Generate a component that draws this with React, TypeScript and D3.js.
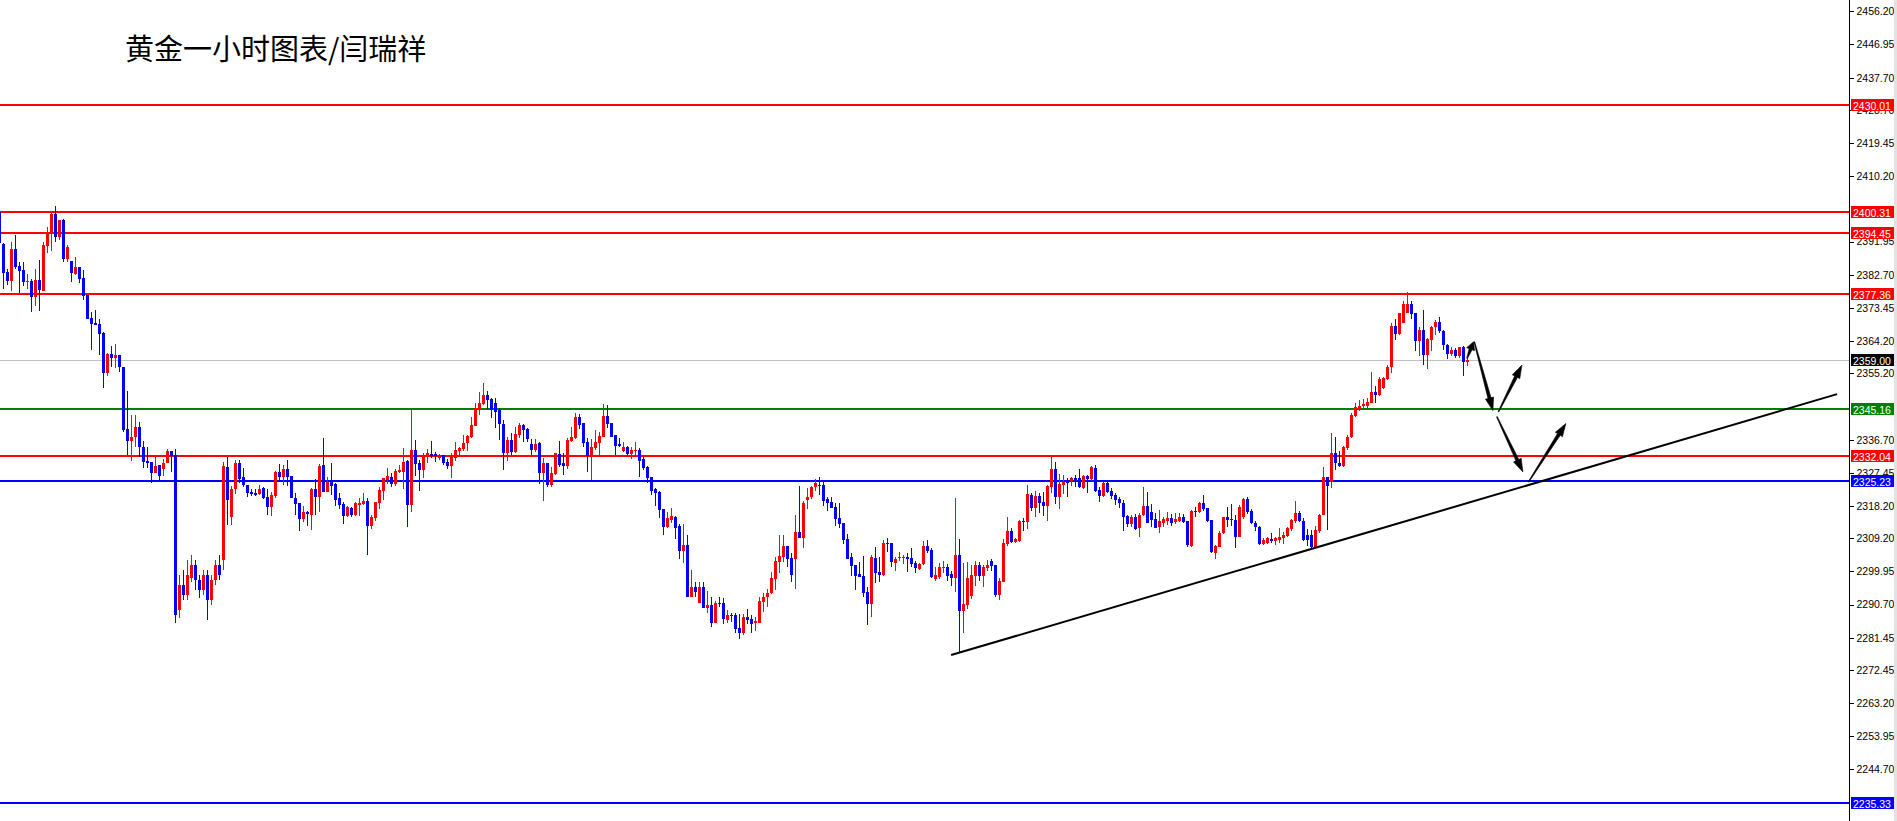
import React, { useEffect, useRef } from 'react';
import * as d3 from 'd3';

const opens = [
  2400.2, 2391.3, 2383.5, 2381.0, 2389.9, 2385.2, 2384.0, 2380.7, 2381.0, 2376.5,
  2381.2, 2378.2, 2390.7, 2394.4, 2399.7, 2393.2, 2398.0, 2387.1, 2386.5, 2382.9,
  2384.9, 2381.8, 2377.1, 2370.6, 2369.2, 2369.0, 2366.5, 2355.3, 2360.6, 2359.5,
  2360.3, 2357.0, 2339.7, 2336.3, 2337.4, 2340.2, 2334.7, 2330.7, 2330.5, 2327.4,
  2329.6, 2328.5, 2330.2, 2333.5, 2332.4, 2289.2, 2296.2, 2293.4, 2298.1, 2301.7,
  2297.6, 2294.7, 2298.9, 2292.0, 2297.6, 2301.7, 2303.1, 2329.1, 2315.1, 2322.9,
  2330.2, 2326.3, 2324.1, 2322.1, 2321.8, 2321.5, 2323.2, 2320.7, 2317.9, 2321.0,
  2327.7, 2326.3, 2328.5, 2326.6, 2320.4, 2319.0, 2314.6, 2316.5, 2315.7, 2322.9,
  2320.7, 2329.6, 2322.1, 2324.9, 2324.3, 2320.4, 2318.7, 2315.4, 2317.6, 2315.7,
  2318.5, 2318.7, 2319.6, 2312.6, 2314.9, 2319.0, 2322.4, 2325.5, 2326.3, 2324.3,
  2327.7, 2327.7, 2330.7, 2318.5, 2333.8, 2330.2, 2328.2, 2331.9, 2332.7, 2332.7,
  2331.6, 2332.4, 2330.5, 2329.4, 2331.6, 2333.5, 2334.1, 2335.8, 2337.4, 2340.5,
  2345.2, 2346.6, 2349.2, 2348.0, 2346.9, 2345.0, 2341.1, 2333.0, 2336.6, 2333.2,
  2338.0, 2340.8, 2339.7, 2335.5, 2333.8, 2335.8, 2327.4, 2330.2, 2324.1, 2327.1,
  2332.7, 2330.2, 2329.4, 2336.3, 2337.2, 2343.0, 2341.3, 2336.0, 2332.1, 2334.4,
  2335.8, 2337.4, 2343.3, 2341.3, 2338.0, 2335.5, 2333.5, 2334.7, 2332.7, 2333.5,
  2333.8, 2331.3, 2329.1, 2326.3, 2322.9, 2322.1, 2317.3, 2312.3, 2314.3, 2315.1,
  2312.6, 2305.6, 2307.3, 2292.8, 2295.6, 2291.1, 2295.6, 2289.7, 2290.6, 2285.6,
  2291.1, 2291.1, 2286.4, 2287.8, 2287.8, 2284.1, 2282.7, 2287.2, 2286.7, 2285.5,
  2285.5, 2291.4, 2292.8, 2293.9, 2297.8, 2302.6, 2303.9, 2307.0, 2303.7, 2303.4,
  2310.9, 2309.3, 2319.9, 2320.7, 2323.5, 2324.1, 2324.1, 2320.1, 2319.3, 2317.9,
  2314.9, 2313.4, 2309.0, 2303.9, 2301.7, 2299.2, 2298.7, 2294.2, 2290.8, 2303.7,
  2299.8, 2298.9, 2307.9, 2307.9, 2302.3, 2303.7, 2303.7, 2303.9, 2303.7, 2302.3,
  2300.6, 2302.0, 2307.0, 2305.9, 2297.8, 2298.4, 2300.9, 2301.2, 2299.2, 2298.1,
  2304.5, 2288.9, 2290.6, 2293.1, 2298.7, 2301.7, 2298.7, 2300.9, 2302.8, 2301.7,
  2293.4, 2297.0, 2307.6, 2311.2, 2308.1, 2308.4, 2314.0, 2313.7, 2321.3, 2317.6,
  2321.0, 2319.3, 2318.2, 2323.5, 2328.5, 2320.7, 2324.1, 2325.2, 2325.2, 2326.0,
  2326.0, 2323.2, 2326.6, 2325.7, 2328.8, 2322.6, 2321.0, 2324.6, 2322.4, 2321.3,
  2320.1, 2319.0, 2315.4, 2313.2, 2315.1, 2312.1, 2315.7, 2318.2, 2316.5, 2314.6,
  2312.3, 2313.4, 2314.0, 2314.9, 2313.7, 2314.0, 2315.1, 2314.0, 2307.0, 2316.8,
  2316.5, 2319.0, 2317.6, 2314.3, 2305.1, 2306.7, 2310.6, 2315.1, 2314.6, 2314.3,
  2309.6, 2315.1, 2320.1, 2316.8, 2313.4, 2312.3, 2307.6, 2307.9, 2309.0, 2308.4,
  2308.7, 2309.3, 2309.8, 2311.8, 2314.0, 2316.2, 2314.0, 2310.1, 2310.1, 2306.7,
  2311.2, 2315.7, 2326.3, 2324.9, 2333.0, 2330.2, 2329.4, 2334.4, 2337.4, 2343.3,
  2345.2, 2346.1, 2346.1, 2346.9, 2350.0, 2349.2, 2351.1, 2353.6, 2357.0, 2368.4,
  2366.2, 2369.2, 2372.0, 2374.5, 2372.0, 2364.2, 2367.3, 2360.3, 2364.5, 2368.1,
  2369.5, 2367.0, 2363.1, 2360.6, 2361.7, 2360.0, 2362.6, 2358.4,
];

const highs = [
  2400.5, 2391.6, 2384.3, 2391.8, 2393.8, 2386.3, 2386.3, 2382.9, 2381.5, 2384.3,
  2386.8, 2391.8, 2396.0, 2400.0, 2401.9, 2398.0, 2398.3, 2391.0, 2386.5, 2387.7,
  2384.9, 2384.0, 2377.1, 2372.3, 2372.9, 2370.4, 2366.7, 2360.9, 2362.8, 2363.4,
  2360.3, 2357.0, 2350.3, 2343.6, 2343.6, 2341.6, 2336.3, 2334.7, 2330.5, 2331.9,
  2329.6, 2331.3, 2334.1, 2333.5, 2334.1, 2298.9, 2300.3, 2303.1, 2304.5, 2303.1,
  2298.9, 2300.3, 2300.3, 2298.9, 2303.1, 2304.5, 2330.5, 2331.9, 2323.8, 2331.0,
  2331.0, 2328.9, 2324.1, 2322.9, 2322.9, 2324.1, 2323.5, 2322.9, 2322.1, 2328.0,
  2329.9, 2329.6, 2331.0, 2326.6, 2321.8, 2319.0, 2318.2, 2316.8, 2323.2, 2325.7,
  2329.9, 2337.2, 2326.3, 2330.2, 2324.6, 2321.8, 2319.3, 2318.2, 2317.9, 2319.3,
  2320.4, 2321.8, 2320.4, 2315.7, 2319.3, 2323.5, 2326.0, 2328.8, 2327.4, 2328.5,
  2329.6, 2334.4, 2331.0, 2345.0, 2336.6, 2331.0, 2332.9, 2334.1, 2336.3, 2333.2,
  2332.7, 2332.4, 2331.3, 2332.9, 2336.0, 2334.7, 2338.0, 2338.0, 2343.0, 2346.9,
  2350.0, 2352.5, 2350.3, 2348.3, 2348.3, 2345.5, 2342.2, 2337.4, 2338.5, 2340.2,
  2341.3, 2341.1, 2340.0, 2336.9, 2336.9, 2336.0, 2331.6, 2330.2, 2329.1, 2333.0,
  2336.3, 2333.0, 2337.2, 2340.2, 2344.1, 2343.9, 2341.3, 2337.2, 2336.9, 2339.4,
  2338.8, 2346.6, 2346.4, 2341.3, 2338.0, 2337.2, 2336.0, 2334.9, 2334.7, 2336.0,
  2334.4, 2331.9, 2329.4, 2326.3, 2323.2, 2322.4, 2317.3, 2316.5, 2317.6, 2315.4,
  2313.2, 2313.2, 2310.1, 2300.3, 2297.0, 2297.0, 2297.0, 2294.5, 2292.8, 2291.7,
  2292.8, 2292.5, 2289.2, 2288.3, 2288.3, 2288.0, 2288.0, 2289.4, 2287.8, 2287.2,
  2292.8, 2293.9, 2295.0, 2299.8, 2303.9, 2310.1, 2310.1, 2307.0, 2305.1, 2315.7,
  2323.8, 2319.6, 2323.2, 2323.8, 2325.7, 2326.3, 2324.9, 2320.7, 2320.7, 2319.0,
  2319.0, 2313.4, 2310.4, 2305.1, 2301.7, 2302.6, 2304.2, 2295.6, 2304.5, 2306.7,
  2303.9, 2308.7, 2309.3, 2307.9, 2303.9, 2305.3, 2304.5, 2305.1, 2306.5, 2302.8,
  2302.3, 2308.4, 2308.7, 2306.5, 2301.2, 2302.3, 2302.8, 2302.0, 2300.0, 2320.4,
  2309.0, 2302.3, 2302.6, 2301.7, 2302.8, 2302.6, 2301.7, 2303.1, 2303.4, 2301.7,
  2298.1, 2309.0, 2315.1, 2312.1, 2309.3, 2314.3, 2314.8, 2324.1, 2321.8, 2322.4,
  2321.8, 2322.1, 2324.1, 2331.9, 2330.5, 2327.1, 2326.9, 2326.0, 2326.3, 2326.9,
  2328.5, 2326.9, 2326.9, 2329.4, 2329.6, 2323.5, 2324.9, 2324.9, 2323.2, 2321.8,
  2320.7, 2319.9, 2315.7, 2315.7, 2316.0, 2316.2, 2323.5, 2322.1, 2318.7, 2316.2,
  2317.1, 2315.1, 2316.5, 2316.0, 2316.2, 2316.2, 2316.0, 2314.0, 2317.1, 2317.9,
  2319.3, 2321.3, 2317.6, 2314.3, 2307.3, 2311.2, 2315.1, 2317.9, 2318.7, 2315.7,
  2318.5, 2320.4, 2320.7, 2317.4, 2314.0, 2312.6, 2309.3, 2309.6, 2310.6, 2309.6,
  2312.1, 2310.9, 2312.3, 2314.6, 2319.6, 2316.8, 2314.9, 2311.8, 2311.5, 2312.6,
  2316.0, 2329.1, 2326.3, 2338.5, 2337.4, 2333.5, 2334.9, 2338.0, 2344.1, 2346.9,
  2347.8, 2348.0, 2348.3, 2355.6, 2351.7, 2354.2, 2354.2, 2357.5, 2369.2, 2370.4,
  2372.0, 2375.4, 2377.9, 2375.4, 2372.0, 2368.1, 2372.9, 2365.1, 2368.4, 2370.1,
  2370.9, 2367.3, 2363.4, 2362.6, 2362.3, 2362.6, 2362.8, 2359.8,
];

const lows = [
  2391.0, 2378.7, 2379.9, 2378.2, 2384.3, 2377.6, 2379.6, 2378.7, 2372.3, 2374.0,
  2372.6, 2378.2, 2388.8, 2389.3, 2391.8, 2392.4, 2386.3, 2386.3, 2380.7, 2382.6,
  2380.4, 2375.7, 2370.4, 2361.7, 2368.7, 2360.3, 2351.1, 2354.5, 2357.0, 2356.7,
  2355.6, 2338.8, 2332.4, 2330.7, 2334.7, 2331.9, 2328.8, 2328.8, 2324.6, 2327.4,
  2325.5, 2326.6, 2330.2, 2327.7, 2285.5, 2286.9, 2292.0, 2292.0, 2297.0, 2294.7,
  2292.5, 2293.3, 2286.4, 2290.6, 2296.2, 2297.6, 2300.3, 2312.9, 2312.9, 2321.6,
  2324.6, 2323.5, 2320.7, 2321.0, 2321.0, 2321.3, 2320.1, 2315.7, 2315.4, 2320.4,
  2324.9, 2324.1, 2323.8, 2320.4, 2315.7, 2311.2, 2313.7, 2312.6, 2311.5, 2315.7,
  2316.5, 2322.1, 2322.1, 2321.3, 2318.2, 2317.4, 2313.2, 2315.1, 2315.1, 2315.4,
  2315.4, 2318.5, 2304.5, 2311.8, 2314.0, 2317.4, 2319.9, 2324.3, 2323.5, 2323.8,
  2327.4, 2322.9, 2312.3, 2316.5, 2326.6, 2322.4, 2326.0, 2330.2, 2331.6, 2330.5,
  2331.0, 2329.6, 2328.5, 2326.0, 2330.7, 2332.1, 2333.5, 2333.5, 2337.2, 2340.5,
  2343.6, 2346.4, 2345.2, 2342.8, 2340.0, 2336.6, 2328.2, 2330.7, 2332.4, 2333.0,
  2337.2, 2336.0, 2336.0, 2332.4, 2333.2, 2324.3, 2319.6, 2323.5, 2323.5, 2326.9,
  2329.1, 2326.9, 2328.5, 2336.0, 2336.9, 2339.7, 2334.7, 2327.7, 2325.5, 2333.8,
  2332.4, 2337.4, 2339.9, 2337.4, 2332.4, 2334.7, 2333.2, 2332.4, 2331.3, 2331.9,
  2326.3, 2328.2, 2324.6, 2321.3, 2318.2, 2314.8, 2310.1, 2312.1, 2313.4, 2309.0,
  2303.4, 2302.3, 2292.8, 2292.8, 2292.8, 2291.1, 2289.7, 2288.3, 2284.4, 2285.6,
  2290.0, 2285.3, 2285.6, 2285.8, 2282.8, 2281.1, 2282.2, 2285.3, 2282.8, 2283.3,
  2285.5, 2288.6, 2290.0, 2293.6, 2294.7, 2299.5, 2302.6, 2301.2, 2297.0, 2295.0,
  2309.3, 2306.5, 2317.4, 2320.1, 2322.4, 2321.3, 2318.2, 2316.8, 2317.6, 2312.6,
  2312.1, 2307.6, 2303.4, 2298.7, 2294.7, 2298.4, 2292.8, 2285.0, 2287.2, 2296.7,
  2297.0, 2298.7, 2305.3, 2301.2, 2300.0, 2302.8, 2302.0, 2299.8, 2301.2, 2299.5,
  2300.3, 2301.7, 2305.1, 2298.1, 2297.3, 2297.8, 2299.5, 2297.3, 2295.9, 2294.2,
  2277.2, 2282.8, 2289.4, 2292.2, 2295.9, 2297.3, 2295.6, 2300.0, 2300.0, 2292.8,
  2292.0, 2297.0, 2307.0, 2307.9, 2307.9, 2308.1, 2311.2, 2311.8, 2316.8, 2315.1,
  2316.2, 2315.4, 2314.0, 2321.8, 2318.7, 2317.4, 2321.5, 2320.7, 2323.8, 2323.5,
  2323.2, 2322.9, 2321.8, 2325.2, 2322.1, 2319.3, 2320.7, 2321.8, 2320.1, 2318.5,
  2317.6, 2311.2, 2312.3, 2312.3, 2311.5, 2309.6, 2315.4, 2313.4, 2312.3, 2312.1,
  2310.6, 2312.3, 2312.9, 2312.6, 2313.2, 2313.7, 2313.4, 2306.7, 2306.7, 2315.1,
  2316.2, 2316.8, 2313.7, 2305.1, 2303.4, 2306.7, 2310.4, 2312.3, 2312.6, 2306.5,
  2309.6, 2314.6, 2316.0, 2313.2, 2311.2, 2307.3, 2307.3, 2307.6, 2307.9, 2307.3,
  2307.9, 2307.6, 2309.6, 2311.2, 2313.4, 2313.7, 2308.4, 2307.0, 2306.2, 2306.7,
  2310.6, 2315.7, 2311.5, 2323.2, 2328.2, 2329.1, 2329.1, 2333.8, 2337.2, 2343.0,
  2344.7, 2345.5, 2345.5, 2346.9, 2346.9, 2348.9, 2350.8, 2353.3, 2355.3, 2364.5,
  2365.9, 2369.2, 2372.0, 2370.4, 2361.4, 2360.0, 2357.5, 2356.4, 2361.4, 2365.9,
  2366.4, 2361.7, 2359.2, 2360.0, 2359.5, 2359.5, 2354.5, 2357.3,
];

const closes = [
  2391.6, 2383.2, 2381.0, 2389.9, 2384.9, 2383.8, 2380.7, 2381.0, 2376.5, 2381.2,
  2378.4, 2391.0, 2394.6, 2399.7, 2393.2, 2398.0, 2387.1, 2390.5, 2383.2, 2384.9,
  2381.5, 2376.8, 2370.4, 2369.0, 2368.7, 2366.2, 2355.3, 2360.6, 2359.5, 2360.3,
  2357.0, 2339.4, 2336.3, 2337.4, 2340.2, 2334.7, 2330.5, 2330.2, 2327.4, 2329.4,
  2326.6, 2330.2, 2333.5, 2332.1, 2287.8, 2296.2, 2293.4, 2298.9, 2301.7, 2297.6,
  2294.7, 2298.9, 2292.0, 2297.6, 2301.7, 2298.9, 2329.4, 2319.9, 2322.9, 2330.2,
  2325.7, 2324.1, 2321.8, 2321.5, 2321.3, 2322.9, 2320.4, 2317.9, 2321.3, 2327.7,
  2326.3, 2328.5, 2326.3, 2320.4, 2318.7, 2314.6, 2316.5, 2316.0, 2322.9, 2320.7,
  2329.4, 2322.1, 2324.9, 2323.8, 2319.9, 2318.5, 2315.4, 2317.9, 2315.7, 2319.0,
  2319.0, 2319.6, 2312.6, 2315.1, 2319.3, 2322.6, 2326.0, 2326.6, 2324.3, 2328.0,
  2328.2, 2330.5, 2318.5, 2333.8, 2329.9, 2328.2, 2331.9, 2332.9, 2332.1, 2332.1,
  2332.4, 2330.2, 2329.4, 2331.9, 2333.8, 2334.4, 2335.8, 2337.7, 2340.8, 2345.5,
  2346.9, 2349.2, 2347.8, 2345.0, 2344.4, 2341.1, 2333.0, 2336.6, 2333.2, 2338.2,
  2340.8, 2339.4, 2336.9, 2333.8, 2335.5, 2327.4, 2330.2, 2324.1, 2327.4, 2333.0,
  2329.6, 2329.4, 2336.6, 2337.4, 2343.0, 2340.8, 2335.8, 2332.1, 2334.7, 2336.0,
  2337.7, 2343.3, 2341.1, 2337.4, 2334.9, 2334.9, 2334.7, 2332.7, 2333.8, 2333.8,
  2330.7, 2328.8, 2326.0, 2322.4, 2321.8, 2317.1, 2312.3, 2314.8, 2315.4, 2312.1,
  2305.6, 2307.3, 2292.8, 2295.6, 2294.2, 2295.6, 2289.7, 2290.6, 2285.6, 2291.1,
  2290.8, 2286.7, 2287.8, 2287.5, 2283.9, 2282.7, 2287.2, 2286.4, 2285.3, 2286.1,
  2291.7, 2292.8, 2293.9, 2298.1, 2302.8, 2304.2, 2307.0, 2303.4, 2298.9, 2310.9,
  2309.3, 2319.0, 2320.7, 2323.5, 2324.6, 2323.8, 2319.6, 2319.0, 2317.6, 2314.6,
  2313.2, 2308.7, 2303.4, 2301.4, 2298.7, 2298.4, 2293.9, 2290.8, 2303.9, 2299.5,
  2298.9, 2307.9, 2307.6, 2302.6, 2303.4, 2303.9, 2303.9, 2303.4, 2302.0, 2300.9,
  2302.0, 2307.0, 2305.6, 2298.4, 2298.9, 2301.2, 2301.2, 2298.7, 2298.1, 2304.5,
  2288.9, 2290.8, 2298.1, 2298.9, 2301.7, 2298.7, 2301.2, 2301.7, 2301.4, 2293.4,
  2297.3, 2307.9, 2311.2, 2308.1, 2309.0, 2314.0, 2313.7, 2321.5, 2317.6, 2321.0,
  2319.0, 2318.2, 2323.8, 2328.5, 2320.7, 2324.3, 2324.9, 2324.6, 2326.0, 2325.2,
  2323.5, 2326.6, 2325.7, 2329.1, 2322.4, 2321.0, 2324.6, 2322.1, 2321.0, 2319.9,
  2319.0, 2315.1, 2313.2, 2315.1, 2311.8, 2315.7, 2318.2, 2313.4, 2314.3, 2312.1,
  2314.0, 2314.6, 2314.9, 2313.4, 2314.6, 2315.1, 2313.7, 2307.3, 2316.8, 2316.5,
  2319.0, 2317.4, 2314.0, 2305.3, 2307.0, 2310.6, 2315.1, 2314.3, 2314.3, 2309.6,
  2317.9, 2320.1, 2316.5, 2313.4, 2312.3, 2307.6, 2308.7, 2309.3, 2308.4, 2309.3,
  2309.6, 2310.1, 2312.1, 2314.3, 2316.2, 2314.0, 2308.7, 2308.7, 2306.7, 2311.5,
  2315.7, 2326.3, 2323.8, 2333.0, 2330.2, 2329.4, 2334.7, 2337.4, 2343.6, 2345.8,
  2346.1, 2346.6, 2347.2, 2350.0, 2349.2, 2353.6, 2353.9, 2357.0, 2368.4, 2366.2,
  2372.0, 2374.5, 2374.5, 2371.7, 2364.2, 2367.3, 2360.3, 2364.8, 2368.1, 2369.5,
  2367.0, 2363.1, 2360.6, 2361.7, 2360.0, 2362.6, 2358.4, 2359.0,
];

const axisTicks = [
  2456.2, 2446.95, 2437.7, 2428.7, 2419.45, 2410.2, 2391.95, 2382.7, 2373.45,
  2364.2, 2355.2, 2336.7, 2327.45, 2318.2, 2309.2, 2299.95, 2290.7, 2281.45,
  2272.45, 2263.2, 2253.95, 2244.7,
];

const levelPrices = [2430.01, 2400.31, 2394.45, 2377.36, 2345.16, 2332.04, 2325.23, 2235.33];
const levelColors = ['#ff0000', '#ff0000', '#ff0000', '#ff0000', '#008000', '#ff0000', '#0000ff', '#0000ff'];
const currentPrice = 2359.0;

// trend line: [bar index, price]
const trendStart = [237.9, 2276.6];
const trendEnd = [459.4, 2349.4];

// arrows: [bar1, price1, bar2, price2] (tail -> head)
const arrows = [
  [366.9, 2359.4, 368.5, 2364.0],
  [368.7, 2364.0, 373.35, 2344.8],
  [374.75, 2344.5, 380.6, 2357.5],
  [374.35, 2343.1, 380.85, 2327.7],
  [382.25, 2324.9, 391.6, 2341.2],
];

const title = '黄金一小时图表/闫瑞祥';

const W = 1897;
const H = 821;
const AXIS_X = 1849.5;
const UP = '#ff0000';
const DOWN = '#0000ff';
const AXIS_FONT = '"Liberation Sans", Arial, sans-serif';

const x = d3.scaleLinear().domain([0, 462]).range([-0.5, 1847.5]);
const y = d3.scaleLinear().domain([2430.01, 2235.33]).range([105.2, 803]);

function arrowPath(i1: number, p1: number, i2: number, p2: number) {
  const x1 = x(i1), y1 = y(p1), x2 = x(i2), y2 = y(p2);
  const dx = x2 - x1, dy = y2 - y1;
  const len = Math.hypot(dx, dy);
  const ux = dx / len, uy = dy / len;
  const nx = -uy, ny = ux;
  const hl = Math.min(13, len * 0.45);
  const hw = 4.2;
  const bx = x2 - ux * hl, by = y2 - uy * hl;
  const pts: [number, number][] = [
    [x1 + nx * 0.4, y1 + ny * 0.4],
    [bx + nx * 1.6, by + ny * 1.6],
    [bx + nx * hw, by + ny * hw],
    [x2, y2],
    [bx - nx * hw, by - ny * hw],
    [bx - nx * 1.6, by - ny * 1.6],
    [x1 - nx * 0.4, y1 - ny * 0.4],
  ];
  return d3.line()(pts) + 'Z';
}

export default function App() {
  const axisRef = useRef<SVGGElement>(null);

  useEffect(() => {
    if (!axisRef.current) return;
    const g = d3.select(axisRef.current);
    g.call(
      d3
        .axisRight(y)
        .tickValues(axisTicks)
        .tickSize(4)
        .tickPadding(3)
        .tickFormat(d3.format('.2f') as any)
    );
    g.select('.domain').remove();
    g.attr('font-family', AXIS_FONT).attr('font-size', 10.5);
    g.selectAll('line').attr('stroke', '#000').attr('shape-rendering', 'crispEdges');
    g.selectAll('text').attr('fill', '#000');
  }, []);

  const idx = d3.range(opens.length);

  return (
    <svg
      width={W}
      height={H}
      style={{ position: 'absolute', left: 0, top: 0, background: '#fff', display: 'block' }}
    >
      <rect x={0} y={0} width={W} height={H} fill="#fff" />
      <text
        x={125}
        y={47}
        fontFamily='"Noto Sans CJK SC", sans-serif'
        fontSize={29}
        dominantBaseline="central"
        fill="#000"
      >
        {title}
      </text>

      {/* current price line */}
      <line
        x1={0}
        x2={AXIS_X}
        y1={Math.round(y(currentPrice)) + 0.5}
        y2={Math.round(y(currentPrice)) + 0.5}
        stroke="#c0c0c0"
        strokeWidth={1}
        shapeRendering="crispEdges"
      />

      {/* horizontal levels */}
      {levelPrices.map((p, i) => (
        <line
          key={'lv' + i}
          x1={0}
          x2={AXIS_X}
          y1={Math.round(y(p))}
          y2={Math.round(y(p))}
          stroke={levelColors[i]}
          strokeWidth={2}
          shapeRendering="crispEdges"
        />
      ))}

      {/* candles */}
      <g shapeRendering="crispEdges">
        {idx.map((k) => {
          const o = opens[k], c = closes[k], h = highs[k], l = lows[k];
          const col = c >= o ? UP : DOWN;
          const cx = x(k);
          const top = y(Math.max(o, c));
          const bot = y(Math.min(o, c));
          return (
            <g key={k}>
              <line x1={cx} x2={cx} y1={y(h)} y2={y(l)} stroke={col} strokeWidth={1} />
              <rect x={cx - 1.5} y={top} width={3} height={Math.max(1, bot - top)} fill={col} />
            </g>
          );
        })}
      </g>

      {/* trend line */}
      <line
        x1={x(trendStart[0])}
        y1={y(trendStart[1])}
        x2={x(trendEnd[0])}
        y2={y(trendEnd[1])}
        stroke="#000"
        strokeWidth={2}
      />

      {/* arrows */}
      {arrows.map((a, i) => (
        <path key={'ar' + i} d={arrowPath(a[0], a[1], a[2], a[3])} fill="#000" stroke="#000" strokeWidth={0.6} />
      ))}

      {/* right axis */}
      <rect x={AXIS_X + 0.5} y={0} width={W - AXIS_X} height={H} fill="#fff" />
      <line x1={AXIS_X} x2={AXIS_X} y1={0} y2={H} stroke="#000" strokeWidth={1} shapeRendering="crispEdges" />
      <g ref={axisRef} transform={`translate(${AXIS_X},0)`} />

      {/* level labels */}
      {[...levelPrices.map((p, i) => ({ p, col: levelColors[i] })), { p: currentPrice, col: '#000' }].map((d, i) => (
        <g key={'lb' + i}>
          <rect x={AXIS_X + 1.5} y={Math.round(y(d.p)) - 6} width={43} height={12} fill={d.col} />
          <text
            x={AXIS_X + 3.5}
            y={Math.round(y(d.p)) + 0.5}
            dominantBaseline="central"
            fontFamily={AXIS_FONT}
            fontSize={10.5}
            fill="#fff"
          >
            {d.p.toFixed(2)}
          </text>
        </g>
      ))}

      {/* window edge */}
      <rect x={1894} y={0} width={3} height={H} fill="#e3e3e3" />
    </svg>
  );
}
